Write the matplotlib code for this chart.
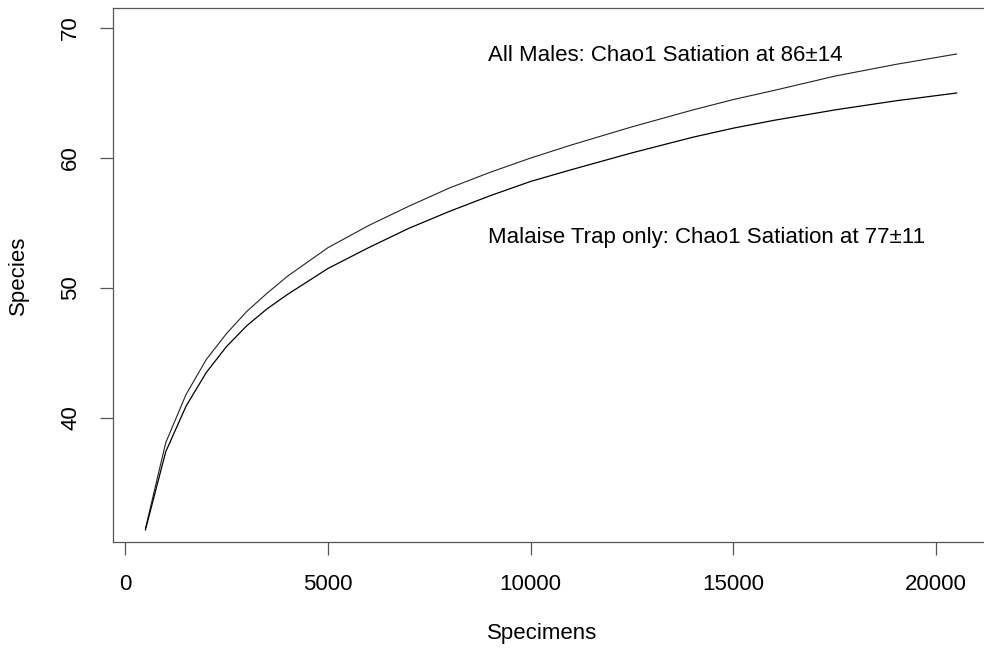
import matplotlib
matplotlib.use('Agg')
import matplotlib.pyplot as plt

plt.rcParams['font.family'] = ['Liberation Sans', 'DejaVu Sans']

# Rarefaction curves
specimens = [500, 1000, 1500, 2000, 2500, 3000, 3500, 4000, 5000, 6000, 7000,
             8000, 9000, 10000, 11000, 12500, 14000, 15000, 16000, 17500, 19000, 20500]
all_males = [31.5, 38.1, 41.8, 44.5, 46.5, 48.2, 49.6, 50.9, 53.1, 54.8, 56.3,
             57.7, 58.9, 60.0, 61.0, 62.4, 63.7, 64.5, 65.2, 66.3, 67.2, 68.0]
malaise = [31.4, 37.4, 40.9, 43.5, 45.5, 47.1, 48.4, 49.5, 51.5, 53.1, 54.6,
           55.9, 57.1, 58.2, 59.1, 60.4, 61.6, 62.3, 62.9, 63.7, 64.4, 65.0]

x_ticks = [0, 5000, 10000, 15000, 20000]
y_ticks = [40, 50, 60, 70]
label_all = "All Males: Chao1 Satiation at 86\u00b114"
label_mal = "Malaise Trap only: Chao1 Satiation at 77\u00b111"

fig = plt.figure(figsize=(9.84, 6.5), dpi=100)
ax = fig.add_axes([113 / 984, 108 / 650, 876 / 984, 534 / 650])

ax.plot(specimens, all_males, color='#222222', lw=0.8)
ax.plot(specimens, malaise, color='black', lw=0.9)

ax.set_xlim(-300, 21300)
ax.set_ylim(30.46, 71.54)
ax.set_xticks(x_ticks)
ax.set_yticks(y_ticks)
ax.set_xticklabels([str(t) for t in x_ticks])
ax.set_yticklabels([str(t) for t in y_ticks], rotation=90, va='center')

for s in ax.spines.values():
    s.set_color('#555555')
    s.set_linewidth(0.9)
ax.tick_params(direction='out', length=9.4, width=0.9, color='#555555',
               labelsize=16, pad=13.5)

ax.text(8940, 67.9, label_all, fontsize=16, ha='left', va='center')
ax.text(8940, 53.9, label_mal, fontsize=16, ha='left', va='center')

ax.set_xlabel("Specimens", fontsize=16)
ax.set_ylabel("Species", fontsize=16)
ax.xaxis.label.set_va('center')
ax.yaxis.label.set_va('center')
ax.xaxis.set_label_coords(0.49, -0.172)
ax.yaxis.set_label_coords(-0.108, 0.5)

fig.savefig('out.png', dpi=100)
